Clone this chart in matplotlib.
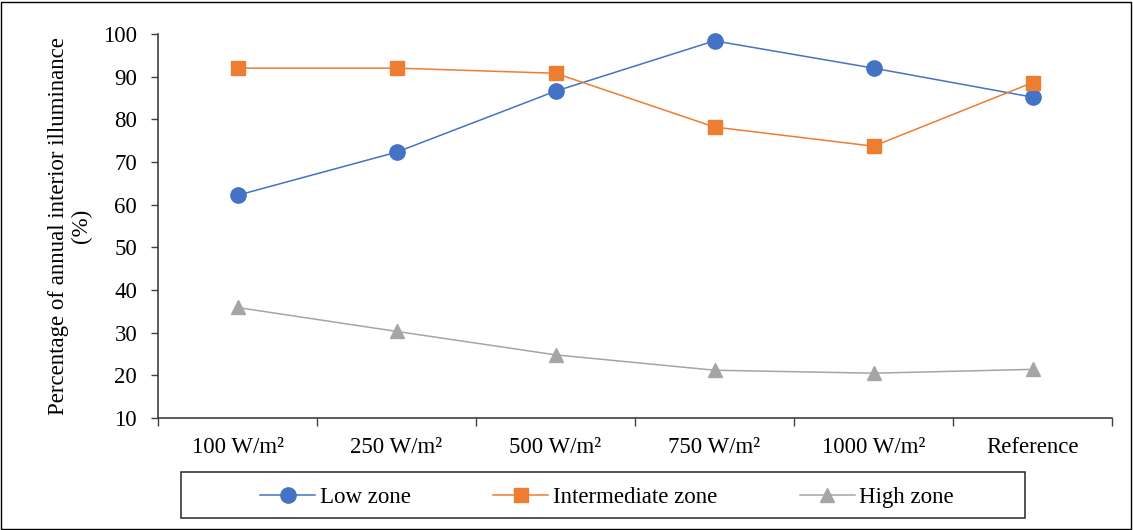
import matplotlib
matplotlib.use("Agg")
import matplotlib.pyplot as plt
from matplotlib.patches import Rectangle

plt.rcParams['font.family'] = ['Liberation Serif', 'DejaVu Serif']

categories = ["100 W/m²", "250 W/m²", "500 W/m²", "750 W/m²", "1000 W/m²", "Reference"]
low_zone = [62.2, 72.3, 86.6, 98.4, 92.0, 85.2]
intermediate_zone = [92.0, 92.0, 90.8, 78.2, 73.7, 88.6]
high_zone = [35.9, 30.3, 24.8, 21.2, 20.5, 21.4]
y_ticks = list(range(10, 101, 10))

W, H = 1133, 530
FS = 16.5
fig = plt.figure(figsize=(W / 100, H / 100), dpi=100)
ax = fig.add_axes([158 / W, 1 - 418 / H, (1112 - 158) / W, (418 - 34) / H])

x = list(range(len(categories)))
ax.plot(x, low_zone, color="#4472C4", lw=1.1, marker="o", ms=11,
        label="Low zone", clip_on=False)
ax.plot(x, intermediate_zone, color="#ED7D31", lw=1.1, marker="s", ms=10,
        label="Intermediate zone", clip_on=False)
ax.plot(x, high_zone, color="#A5A5A5", lw=1.1, marker="^", ms=10.5,
        label="High zone", clip_on=False)

ax.set_xlim(-0.5, len(categories) - 0.5)
ax.set_ylim(10, 100)
ax.set_yticks(y_ticks)
ax.tick_params(axis="y", labelsize=FS, length=5, width=1, color="#404040", pad=10)

# Category boundaries carry the tick marks; labels sit at category centres
ax.set_xticks([i - 0.5 for i in range(len(categories) + 1)])
ax.set_xticklabels([])
ax.tick_params(axis="x", which="major", length=6, width=1, color="#404040")
ax.set_xticks(x, minor=True)
ax.set_xticklabels(categories, minor=True, fontsize=FS)
ax.tick_params(axis="x", which="minor", length=0, pad=14)

for side in ("top", "right"):
    ax.spines[side].set_visible(False)
for side in ("left", "bottom"):
    ax.spines[side].set_color("#404040")
    ax.spines[side].set_linewidth(1.2)

fig.text(70 / W, 1 - 226 / H, "Percentage of annual interior illuminance\n(%)",
         rotation=90, ha="center", va="center", fontsize=FS, linespacing=1.15)

# Legend entries without their own frame; a wider box is drawn around them
fig.legend(loc="center", bbox_to_anchor=(607 / W, 1 - 497 / H), ncol=3,
           fontsize=FS, frameon=False, columnspacing=3.6, handlelength=2.4,
           handletextpad=0.2)
fig.patches.append(Rectangle((181 / W, 1 - 518 / H), (1025 - 181) / W, 46 / H,
                             transform=fig.transFigure, fill=False,
                             edgecolor="#262626", lw=1.1))

fig.patches.append(Rectangle((1 / W, 1 / H), 1 - 3 / W, 1 - 3 / H,
                             transform=fig.transFigure, fill=False,
                             edgecolor="black", lw=1.0))

fig.savefig("out.png", dpi=100)
